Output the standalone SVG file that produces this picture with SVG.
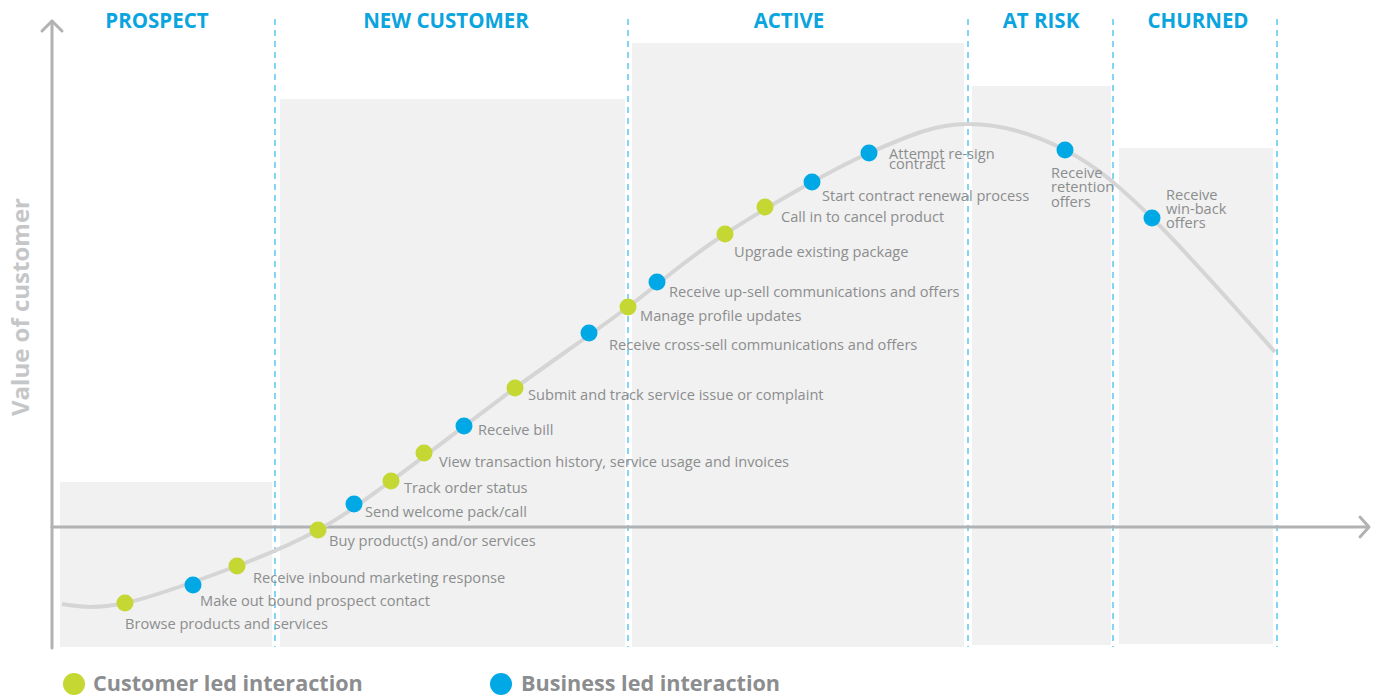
<svg xmlns="http://www.w3.org/2000/svg" width="1379" height="698" viewBox="0 0 1379 698">
<style>
.bg{fill:#f0f1f0}
.div{stroke:#5cc8f0;stroke-width:1.5;stroke-dasharray:6 5;fill:none}
.axis{stroke:#b1b2b4;stroke-width:3;fill:none;stroke-linecap:round;stroke-linejoin:round}
.hdr{font-family:"Open Sans","Liberation Sans",sans-serif;font-weight:700;font-size:20.5px;fill:#0aa4de;text-anchor:middle}
.lbl{font-family:"Open Sans","Liberation Sans",sans-serif;font-size:14.6px;fill:#8c8d8f}
.leg{font-family:"Open Sans","Liberation Sans",sans-serif;font-weight:700;font-size:21.6px;fill:#8c8d8f}
.g{fill:#c5d733}
.b{fill:#00a9e6}
</style>
<g id="backgrounds">
<rect class="bg" x="60" y="482" width="212" height="165"/>
<rect class="bg" x="280" y="99" width="345" height="548"/>
<rect class="bg" x="632" y="43" width="332" height="604"/>
<rect class="bg" x="972" y="86" width="139" height="559"/>
<rect class="bg" x="1119" y="148" width="154" height="496"/>
</g>
<g id="dividers">
<line class="div" x1="275" y1="19" x2="275" y2="647"/>
<line class="div" x1="628" y1="19" x2="628" y2="647"/>
<line class="div" x1="968" y1="19" x2="968" y2="647"/>
<line class="div" x1="1113" y1="19" x2="1113" y2="647"/>
<line class="div" x1="1277" y1="19" x2="1277" y2="647"/>
</g>
<g id="headers">
<text class="hdr" x="157" y="28">PROSPECT</text>
<text class="hdr" x="446" y="28">NEW CUSTOMER</text>
<text class="hdr" x="789" y="28">ACTIVE</text>
<text class="hdr" x="1041" y="28">AT RISK</text>
<text class="hdr" x="1198" y="28">CHURNED</text>
</g>
<g id="axes">
<line class="axis" x1="52" y1="21" x2="52" y2="648"/>
<polyline class="axis" points="42,31 52,21 62,31"/>
<line class="axis" x1="52" y1="527" x2="1368" y2="527"/>
<polyline class="axis" points="1360,517 1369,527 1360,537"/>
<text transform="translate(29,307) rotate(-90)" text-anchor="middle" style="font-family:'Open Sans','Liberation Sans',sans-serif;font-weight:700;font-size:24px;fill:#c5c6c7">Value of customer</text>
</g>
<g id="connectors">
<path d="M62,604 C80,607 96,609 125,603 C154,597 205,578 237,566 C269,554 292,544 318,530 C344,516 358,505 391,481 C424,457 476,417 515,388 C555,359 593,333 628,307 C663,281 685,260 725,234 C765,208 829,171 869,153 C910,135 935,124 968,124 C1001,124 1034,134 1065,150 C1096,166 1117,184 1152,218 C1187,252 1255,330 1275,352" fill="none" stroke="#d5d5d6" stroke-width="4"/>
</g>
<g id="n1"><circle class="g" cx="125" cy="603" r="8.5"/><text class="lbl" x="125" y="629">Browse products and services</text></g>
<g id="n2"><circle class="b" cx="193" cy="585" r="8.5"/><text class="lbl" x="200" y="606">Make out bound prospect contact</text></g>
<g id="n3"><circle class="g" cx="237" cy="566" r="8.5"/><text class="lbl" x="253" y="583">Receive inbound marketing response</text></g>
<g id="n4"><circle class="g" cx="318" cy="530" r="8.5"/><text class="lbl" x="329" y="546">Buy product(s) and/or services</text></g>
<g id="n5"><circle class="b" cx="354" cy="504" r="8.5"/><text class="lbl" x="365" y="517">Send welcome pack/call</text></g>
<g id="n6"><circle class="g" cx="391" cy="481" r="8.5"/><text class="lbl" x="404" y="493">Track order status</text></g>
<g id="n7"><circle class="g" cx="424" cy="453" r="8.5"/><text class="lbl" x="439" y="467">View transaction history, service usage and invoices</text></g>
<g id="n8"><circle class="b" cx="464" cy="426" r="8.5"/><text class="lbl" x="478" y="435">Receive bill</text></g>
<g id="n9"><circle class="g" cx="515" cy="388" r="8.5"/><text class="lbl" x="528" y="400">Submit and track service issue or complaint</text></g>
<g id="n10"><circle class="b" cx="589" cy="333" r="8.5"/><text class="lbl" x="609" y="350">Receive cross-sell communications and offers</text></g>
<g id="n11"><circle class="g" cx="628" cy="307" r="8.5"/><text class="lbl" x="640" y="321">Manage profile updates</text></g>
<g id="n12"><circle class="b" cx="657" cy="282" r="8.5"/><text class="lbl" x="669" y="297">Receive up-sell communications and offers</text></g>
<g id="n13"><circle class="g" cx="725" cy="234" r="8.5"/><text class="lbl" x="734" y="257">Upgrade existing package</text></g>
<g id="n14"><circle class="g" cx="765" cy="207" r="8.5"/><text class="lbl" x="781" y="222">Call in to cancel product</text></g>
<g id="n15"><circle class="b" cx="812" cy="182" r="8.5"/><text class="lbl" x="822" y="201">Start contract renewal process</text></g>
<g id="n16"><circle class="b" cx="869" cy="153" r="8.5"/><text class="lbl" x="889" y="159">Attempt re-sign</text><text class="lbl" x="889" y="169">contract</text></g>
<g id="n17"><circle class="b" cx="1065" cy="150" r="8.5"/><text class="lbl" x="1051" y="178">Receive</text><text class="lbl" x="1051" y="192">retention</text><text class="lbl" x="1051" y="207">offers</text></g>
<g id="n18"><circle class="b" cx="1152" cy="218" r="8.5"/><text class="lbl" x="1166" y="200">Receive</text><text class="lbl" x="1166" y="214">win-back</text><text class="lbl" x="1166" y="228">offers</text></g>
<g id="legend">
<circle class="g" cx="74" cy="684" r="11"/><text class="leg" x="93" y="691">Customer led interaction</text>
<circle class="b" cx="501" cy="684" r="11"/><text class="leg" x="521" y="691">Business led interaction</text>
</g>
</svg>
